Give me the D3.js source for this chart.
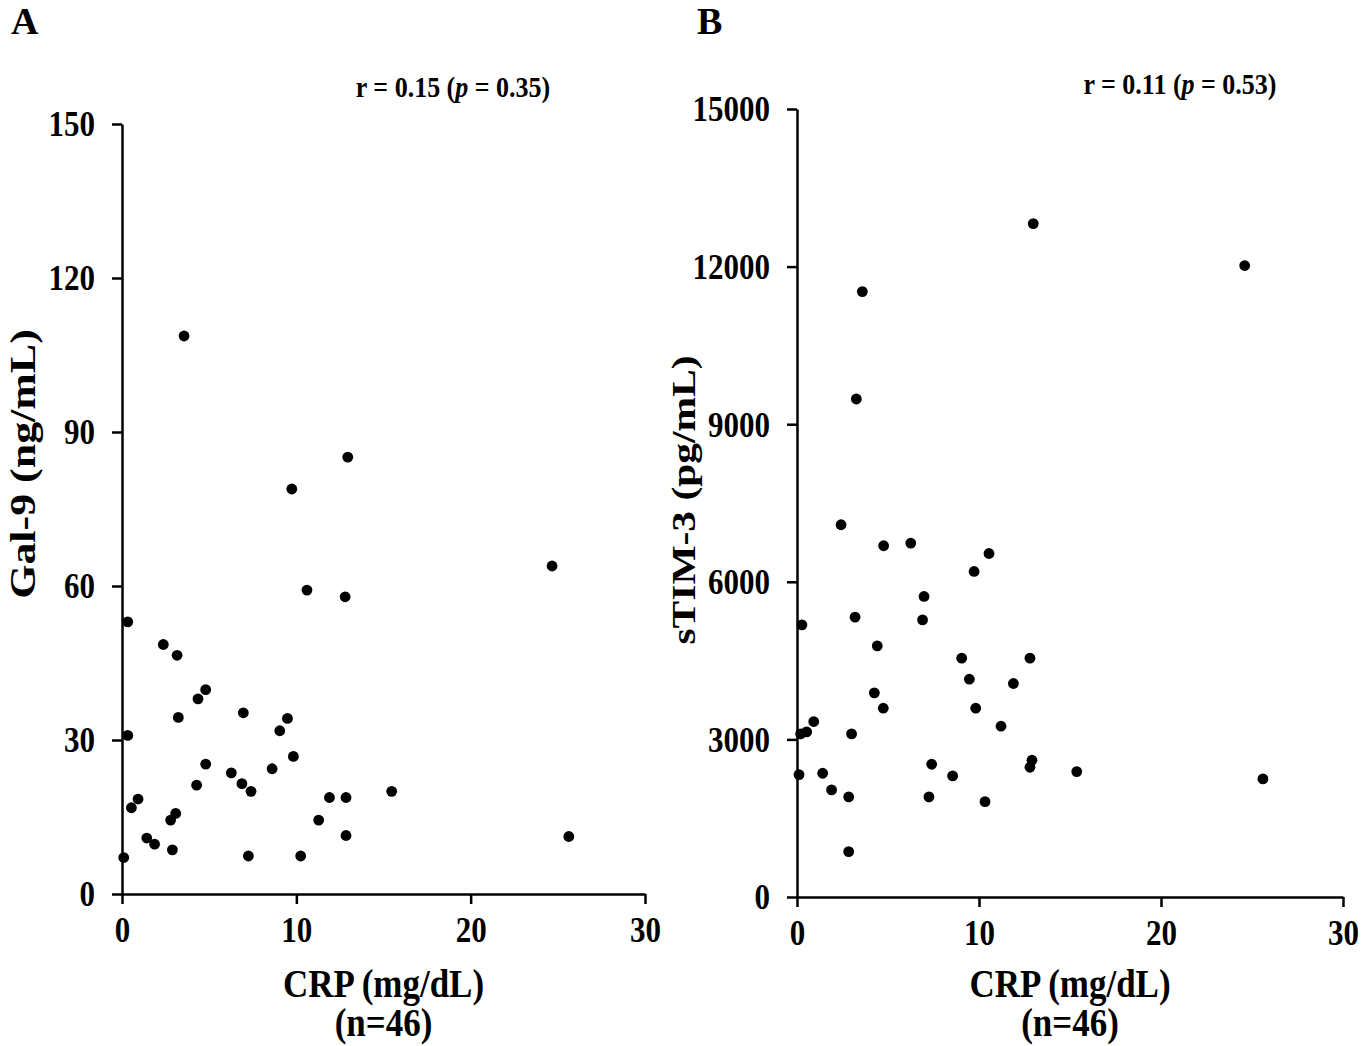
<!DOCTYPE html>
<html>
<head>
<meta charset="utf-8">
<script src="https://cdn.jsdelivr.net/npm/d3@7"></script>
<style>
  html, body { margin: 0; padding: 0; background: #fff; }
  svg { display: block; }
  text { font-family: "Liberation Serif", "Times New Roman", serif; font-weight: bold; fill: #000; }
</style>
</head>
<body>
<svg id="chart" width="1362" height="1046"></svg>
<script>
// ---- Data ----
const xTicks = [0, 10, 20, 30];
const gal9Ticks = [0, 30, 60, 90, 120, 150];
const tim3Ticks = [0, 3000, 6000, 9000, 12000, 15000];

// Panel A: CRP (mg/dL) vs Gal-9 (ng/mL)
const gal9CRP = [3.56, 12.95, 9.74, 10.61, 12.8, 0.33, 2.37, 3.16, 4.8, 4.36, 3.23, 6.96, 9.49, 9.05, 0.33,
  9.83, 4.8, 8.61, 6.27, 4.28, 6.88, 7.4, 15.47, 0.92, 0.54, 11.9, 12.85, 3.08, 2.79, 11.28,
  1.42, 1.87, 2.89, 12.85, 0.1, 7.25, 10.25, 24.67, 25.63];
const gal9Values = [108.7, 85.1, 78.9, 59.2, 57.9, 53.0, 48.6, 46.5, 39.8, 38.0, 34.4, 35.3, 34.2, 31.8, 30.9,
  26.8, 25.3, 24.4, 23.6, 21.2, 21.5, 20.0, 20.0, 18.5, 16.8, 18.8, 18.8, 15.7, 14.4, 14.4,
  10.9, 9.7, 8.6, 11.4, 7.1, 7.4, 7.4, 63.9, 11.2];

// Panel B: CRP (mg/dL) vs sTIM-3 (pg/mL)
const tim3CRP = [12.98, 3.59, 3.26, 2.42, 4.76, 6.25, 10.55, 9.73, 6.98, 0.27, 3.19, 6.9, 4.41, 9.05, 12.8,
  9.47, 11.89, 4.25, 4.74, 9.82, 0.92, 11.21, 0.53, 0.2, 3.0, 7.4, 12.91, 12.8, 0.11,
  1.41, 8.55, 15.37, 1.9, 2.84, 7.25, 10.33, 2.84, 24.6, 25.6];
const tim3Values = [12819, 11524, 9480, 7086, 6686, 6737, 6539, 6197, 5721, 5181, 5327, 5276, 4781, 4546, 4546,
  4146, 4064, 3886, 3594, 3594, 3340, 3251, 3143, 3105, 3105, 2527, 2603, 2470, 2330,
  2356, 2305, 2387, 2038, 1905, 1905, 1815, 863, 12020, 2248];

const xTitleLines = ["CRP (mg/dL)", "(n=46)"];

const panels = [
  { label: "A", xs: gal9CRP, ys: gal9Values, yTicks: gal9Ticks, yMax: 150,
    xRange: [122, 645], yRange: [894, 124],
    yTitle: "Gal-9 (ng/mL)", yTitleX: 22, yTitleY: 464, yTitleSize: 36,
    r: "0.15", p: "0.35", statX: 453, statY: 86, labelX: 11, labelY: 21 },
  { label: "B", xs: tim3CRP, ys: tim3Values, yTicks: tim3Ticks, yMax: 15000,
    xRange: [797, 1343], yRange: [897, 109],
    yTitle: "sTIM-3 (pg/mL)", yTitleX: 683, yTitleY: 500, yTitleSize: 34,
    r: "0.11", p: "0.53", statX: 1180, statY: 83, labelX: 697, labelY: 21 }
];

const SY = 1.16; // vertical stretch of the original figure's lettering
const svg = d3.select("#chart");

panels.forEach(P => {
  const x = d3.scaleLinear().domain([0, 30]).range(P.xRange);
  const y = d3.scaleLinear().domain([0, P.yMax]).range(P.yRange);
  const g = svg.append("g");

  // y axis
  const ya = g.append("g").attr("transform", `translate(${P.xRange[0]},0)`)
    .call(d3.axisLeft(y).tickValues(P.yTicks).tickSize(10).tickSizeOuter(0).tickPadding(17).tickFormat(d3.format("d")));
  ya.selectAll("path, line").attr("stroke", "#000").attr("stroke-width", 2.5);
  ya.selectAll("text").attr("font-size", 31).attr("font-family", null)
    .attr("transform", `scale(1,${SY})`).attr("dy", "0.33em");

  // x axis
  const xa = g.append("g").attr("transform", `translate(0,${P.yRange[0]})`)
    .call(d3.axisBottom(x).tickValues(xTicks).tickSize(10).tickSizeOuter(0).tickFormat(d3.format("d")));
  xa.selectAll("path, line").attr("stroke", "#000").attr("stroke-width", 2.5);
  xa.selectAll("text").attr("font-size", 31).attr("font-family", null)
    .attr("y", 36 / SY).attr("dy", "0.33em").attr("transform", `scale(1,${SY})`);

  // points
  g.append("g").selectAll("circle")
    .data(P.xs.map((v, i) => [v, P.ys[i]]))
    .join("circle")
    .attr("cx", d => x(d[0])).attr("cy", d => y(d[1]))
    .attr("r", 5.4).attr("fill", "#000");

  // x title (two lines in one text)
  const cx = (P.xRange[0] + P.xRange[1]) / 2;
  const xs = 1.12;
  const xt = g.append("text").attr("transform", `translate(${cx},983) scale(1,${xs})`)
    .attr("text-anchor", "middle").attr("font-size", 35);
  xt.append("tspan").attr("x", 0).attr("dy", "0.35em").text(xTitleLines[0]);
  xt.append("tspan").attr("x", 0).attr("dy", 39 / xs).text(xTitleLines[1]);

  // y title
  g.append("text").attr("transform", `translate(${P.yTitleX},${P.yTitleY}) scale(1,1.22) rotate(-90)`)
    .attr("text-anchor", "middle").attr("dy", "0.35em").attr("font-size", P.yTitleSize).text(P.yTitle);

  // stats
  const st = g.append("text").attr("transform", `translate(${P.statX},${P.statY}) scale(1,${SY})`)
    .attr("text-anchor", "middle").attr("dy", "0.35em").attr("font-size", 26);
  st.append("tspan").text(`r = ${P.r} (`);
  st.append("tspan").attr("font-style", "italic").text("p");
  st.append("tspan").text(` = ${P.p})`);

  // panel label
  g.append("text").attr("transform", `translate(${P.labelX},${P.labelY})`)
    .attr("dy", "0.35em").attr("font-size", 38).text(P.label);
});
</script>
</body>
</html>
